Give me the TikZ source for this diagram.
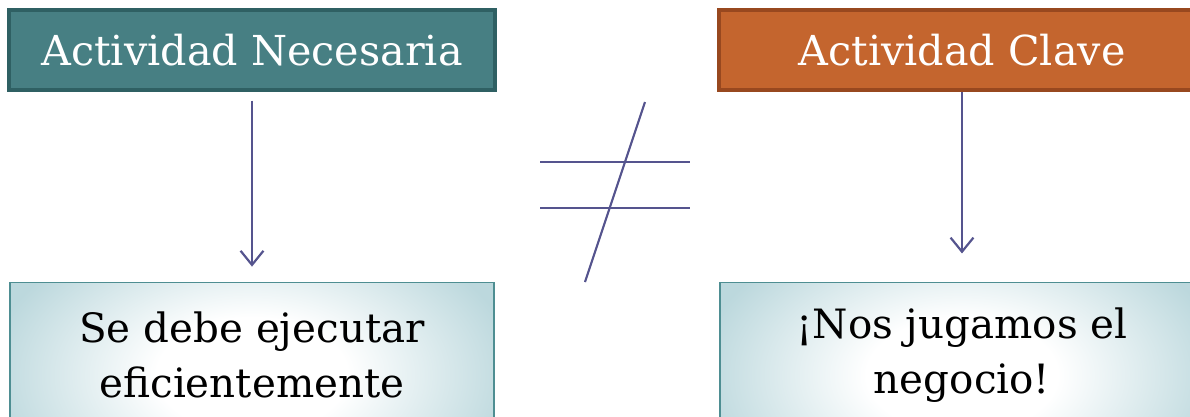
\documentclass[tikz,border=0pt]{standalone}
\usepackage{fontspec}
\setmainfont{DejaVu Serif}
\usetikzlibrary{arrows.meta,positioning}

\definecolor{tealfill}{HTML}{477F83}
\definecolor{tealedge}{HTML}{2F6063}
\definecolor{rustfill}{HTML}{C4652E}
\definecolor{rustedge}{HTML}{98481F}
\definecolor{paleteal}{HTML}{BCD8DD}
\definecolor{paleedge}{HTML}{4E8E92}
\definecolor{arrowblue}{HTML}{55548E}

\pgfdeclareradialshading{softglow}{\pgfpoint{0bp}{0bp}}{%
  color(0bp)=(white); color(9bp)=(white); color(25bp)=(paleteal);
  color(50bp)=(paleteal)}

\begin{document}
\begin{tikzpicture}[
  x=0.02cm, y=-0.02cm,
  head/.style={draw, line width=2pt, minimum width=9.72cm, minimum height=1.6cm,
               text=white, font=\fontsize{23.5}{28}\selectfont, inner sep=0pt},
  necesaria/.style={head, fill=tealfill, draw=tealedge},
  clave/.style={head, fill=rustfill, draw=rustedge},
  result/.style={draw=paleedge, line width=1.1pt, minimum width=9.7cm,
                 minimum height=2.9cm, align=center, inner sep=0pt, fill=paleteal,
                 path picture={\shade[shading=softglow]
                   ([yshift=-0.4cm]path picture bounding box.center)
                   ellipse (5.3cm and 3.2cm);},
                 font=\fontsize{23}{31}\selectfont},
  ar/.style={-{Straight Barb[length=8pt, width=13pt, line width=1.25pt]},
             line width=1.25pt, draw=arrowblue},
  neq/.style={line width=1.2pt, draw=arrowblue},
]
\useasboundingbox (0,0) rectangle (1190,416);
\clip (0,0) rectangle (1190,416);

\node[necesaria] (nec)   at (252,50)  {Actividad Necesaria};
\node[clave]     (clave) at (962,50)  {Actividad Clave};

\node[result] (eje)  at (252,355) {Se debe ejecutar\\eficientemente};
\node[result] (neg)  at (962,355) {¡Nos jugamos el\\negocio!};

\draw[ar, shorten <=5pt, shorten >=8.5pt] (nec) -- (eje);
\draw[ar, shorten >=16pt] (clave) -- (neg);

% signo distinto
\draw[neq] (540,162) -- (690,162);
\draw[neq] (540,208) -- (690,208);
\draw[neq] (645,102) -- (585,282);

\end{tikzpicture}
\end{document}
